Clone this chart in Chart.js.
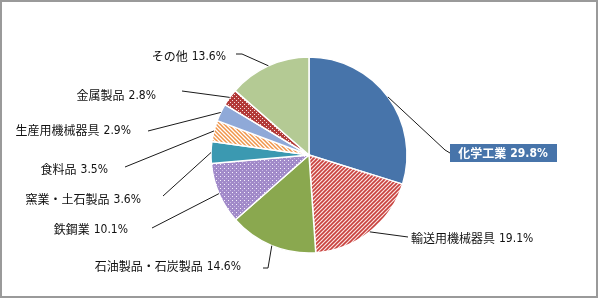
<!DOCTYPE html>
<html>
<head>
<meta charset="utf-8">
<script src="https://cdn.jsdelivr.net/npm/chart.js@4.4.0/dist/chart.umd.min.js"></script>
<style>
  html, body { margin: 0; padding: 0; background: #fff; }
  #wrap { width: 600px; height: 302px; position: relative; }
</style>
</head>
<body>
<div id="wrap"><canvas id="pieChart" width="600" height="302"></canvas></div>
<script>
const categories = ["化学工業", "輸送用機械器具", "石油製品・石炭製品", "鉄鋼業", "窯業・土石製品", "食料品", "生産用機械器具", "金属製品", "その他"];
const shares = [29.8, 19.1, 14.6, 10.1, 3.6, 3.5, 2.9, 2.8, 13.6];

// where each leader line bends / ends and where its text sits
const labelLayout = [
  { path: [[445, 150], [450, 153]], tx: 503, ty: 153, align: "box" },
  { path: [[408, 237]], tx: 411, ty: 238, align: "left" },
  { path: [[268, 268], [263, 268]], tx: 241, ty: 266, align: "right" },
  { path: [[152, 228]], tx: 128, ty: 229, align: "right" },
  { path: [[163, 196]], tx: 141, ty: 199, align: "right" },
  { path: [[125, 167]], tx: 108, ty: 169, align: "right" },
  { path: [[148, 131]], tx: 131, ty: 130, align: "right" },
  { path: [[182, 91]], tx: 156, ty: 95, align: "right" },
  { path: [[242, 54], [236, 54]], tx: 226, ty: 56, align: "right" }
];

function makePattern(size, paint) {
  const c = document.createElement("canvas");
  c.width = size; c.height = size;
  const g = c.getContext("2d");
  paint(g, size);
  return g.createPattern(c, "repeat");
}

const redStripes = makePattern(4, (g, s) => {
  g.fillStyle = "#fbe3e2"; g.fillRect(0, 0, s, s);
  g.strokeStyle = "#c8413d"; g.lineWidth = 1.6;
  g.beginPath();
  g.moveTo(-1, s + 1); g.lineTo(s + 1, -1);
  g.moveTo(-1, 1); g.lineTo(1, -1);
  g.moveTo(s - 1, s + 1); g.lineTo(s + 1, s - 1);
  g.stroke();
});
const orangeStripes = makePattern(4, (g, s) => {
  g.fillStyle = "#fff"; g.fillRect(0, 0, s, s);
  g.strokeStyle = "#f0954a"; g.lineWidth = 1.5;
  g.beginPath();
  g.moveTo(-1, -1); g.lineTo(s + 1, s + 1);
  g.moveTo(s - 1, -1); g.lineTo(s + 1, 1);
  g.moveTo(-1, s - 1); g.lineTo(1, s + 1);
  g.stroke();
});
const purpleDots = makePattern(4, (g, s) => {
  g.fillStyle = "#a18ac9"; g.fillRect(0, 0, s, s);
  g.fillStyle = "#f6f1fc"; g.fillRect(0, 0, 1, 1);
  g.fillStyle = "#c9b9e4"; g.fillRect(2, 2, 1, 1);
});
const darkRedDots = makePattern(4, (g, s) => {
  g.fillStyle = "#b23a38"; g.fillRect(0, 0, s, s);
  g.fillStyle = "#f6dede"; g.fillRect(0, 0, 1, 1); g.fillRect(2, 2, 1, 1);
});

const sliceColors = ["#4774aa", redStripes, "#8aa84f", purpleDots, "#3b99b1", orangeStripes, "#8fa9d8", darkRedDots, "#b4ca94"];

const jpFont = "'Noto Sans CJK JP', 'Noto Sans', sans-serif";
const numFont = "'Liberation Sans Narrow', 'Arial Narrow', 'DejaVu Sans Condensed', sans-serif";

const leaderLabels = {
  id: "leaderLabels",
  afterDatasetsDraw(chart) {
    const ctx = chart.ctx;
    const arcs = chart.getDatasetMeta(0).data;
    arcs.forEach((arc, i) => {
      const p = arc.getProps(["x", "y", "startAngle", "endAngle", "outerRadius"], true);
      const mid = (p.startAngle + p.endAngle) / 2;
      const sx = p.x + Math.cos(mid) * p.outerRadius;
      const sy = p.y + Math.sin(mid) * p.outerRadius;
      const lay = labelLayout[i];
      ctx.save();
      ctx.strokeStyle = "#1a1a1a";
      ctx.lineWidth = 1;
      ctx.beginPath();
      ctx.moveTo(sx, sy);
      lay.path.forEach(pt => ctx.lineTo(pt[0], pt[1]));
      ctx.stroke();

      const name = categories[i];
      const pct = shares[i].toFixed(1) + "%";
      const bold = lay.align === "box" ? "bold " : "";
      ctx.textBaseline = "middle";
      ctx.font = bold + "12px " + jpFont;
      const nameW = ctx.measureText(name).width;
      ctx.font = bold + "12px " + numFont;
      const pctW = ctx.measureText(pct).width;
      const gap = 4;
      const total = nameW + gap + pctW;
      let left;
      if (lay.align === "right") left = lay.tx - total;
      else if (lay.align === "left") left = lay.tx;
      else left = lay.tx - total / 2;

      if (lay.align === "box") {
        ctx.fillStyle = "#4774aa";
        ctx.fillRect(450, 144, 107, 18);
        ctx.fillStyle = "#fff";
      } else {
        ctx.fillStyle = "#111";
      }
      ctx.textAlign = "left";
      ctx.font = bold + "12px " + jpFont;
      ctx.fillText(name, left, lay.ty);
      ctx.font = bold + "12px " + numFont;
      ctx.fillText(pct, left + nameW + gap, lay.ty + 0.5);
      ctx.restore();
    });
  },
  afterDraw(chart) {
    const ctx = chart.ctx;
    ctx.save();
    ctx.strokeStyle = "#9a9a9a";
    ctx.lineWidth = 2;
    ctx.strokeRect(1, 1, 596, 296);
    ctx.restore();
  }
};

new Chart(document.getElementById("pieChart").getContext("2d"), {
  type: "pie",
  data: {
    labels: categories,
    datasets: [{
      data: shares,
      backgroundColor: sliceColors,
      borderColor: "#ffffff",
      borderWidth: 1.5,
      hoverOffset: 0
    }]
  },
  options: {
    responsive: false,
    animation: false,
    radius: 98,
    layout: { padding: { left: 18, top: 8, right: 0, bottom: 0 } },
    plugins: {
      legend: { display: false },
      tooltip: { enabled: false }
    }
  },
  plugins: [leaderLabels]
});
</script>
</body>
</html>
